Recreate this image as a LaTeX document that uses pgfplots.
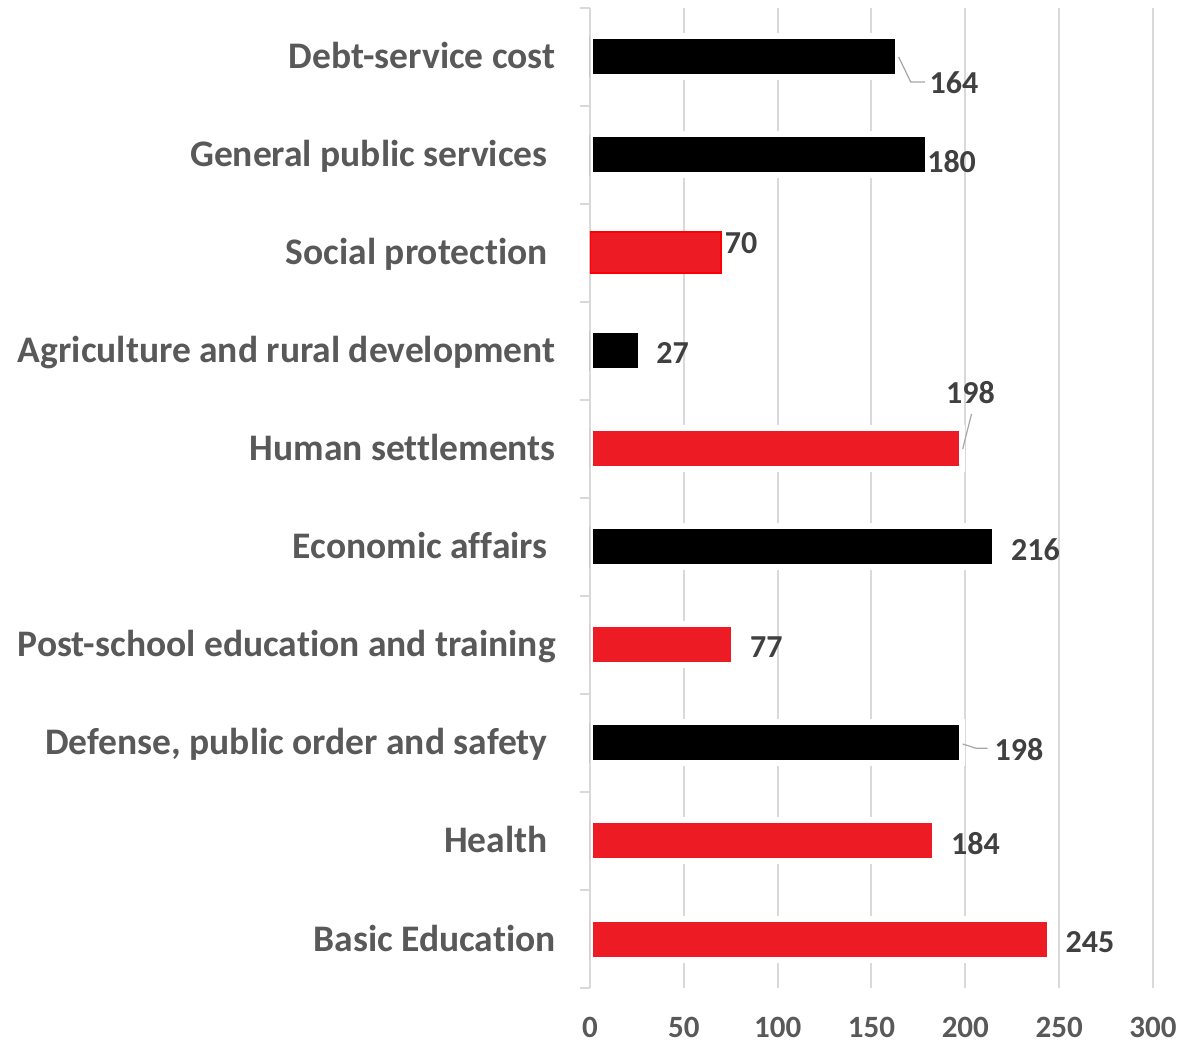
\documentclass[border=0pt]{standalone}
\usepackage{fontspec}
\setmainfont{Carlito}[Ligatures=NoCommon]
\usepackage{pgfplots}
\pgfplotsset{compat=1.18}

\definecolor{gridgray}{HTML}{D9D9D9}
\definecolor{labelgray}{HTML}{595959}
\definecolor{valgray}{HTML}{404040}
\definecolor{leadgray}{HTML}{A6A6A6}
\definecolor{barred}{HTML}{ED1C24}

\begin{document}
\begin{tikzpicture}
\path[use as bounding box] (-295pt,-28pt) rectangle (296pt,494pt);
\begin{axis}[
  at={(0,0)}, anchor=south west,
  scale only axis, width=281.5pt, height=490pt,
  xmin=0, xmax=300, ymin=-0.5, ymax=9.5,
  xbar, bar shift=0pt, bar width=20.5pt,
  axis line style={draw=none},
  xmajorgrids, grid style={gridgray, line width=1pt},
  xtick={0,50,...,300},
  ytick={0,...,9},
  yticklabels={Basic Education, Health\kern4pt, {Defense, public order and safety\kern4pt},
    Post-school education and training, Economic affairs\kern4pt, Human settlements,
    Agriculture and rural development, Social protection\kern4pt,
    General public services\kern4pt, Debt-service cost},
  minor ytick={-0.5,0.5,...,9.5},
  tick align=outside, tick pos=left,
  major tick length=0pt, minor tick length=5pt,
  major tick style={draw=none},
  minor tick style={gridgray, line width=1pt},
  xticklabel style={font=\fontsize{15.5}{18}\selectfont\bfseries, text=labelgray, yshift=-11pt},
  yticklabel style={font=\fontsize{18.75}{22}\selectfont\bfseries, text=labelgray,
    inner sep=0pt, anchor=base east, xshift=-17pt, yshift=-6pt},
  /pgf/number format/assume math mode=true,
]
% black bars
\addplot[fill=black, draw=white, line width=3pt] coordinates {
  (164,9) (180,8) (27,6) (216,4) (198,2)
};
% red bars
\addplot[fill=barred, draw=white, line width=3pt] coordinates {
  (245,0) (184,1) (77,3) (198,5)
};

\draw[gridgray, line width=1pt] (0,-0.5) -- (0,9.5);

% social protection, outlined in bright red and a little taller
\addplot[fill=barred, draw=red, line width=1pt, bar width=20.5pt] coordinates {(70,7)};

% leader lines
\draw[leadgray, line width=0.6pt] (164.5,9.0) -- (170.9,8.745) -- (178.4,8.745);
\draw[leadgray, line width=0.6pt] (198.6,5.0) -- (203.3,5.357);
\draw[leadgray, line width=0.6pt] (198.6,1.99) -- (205.7,1.946) -- (211.9,1.946);

% value labels
\tikzset{val/.style={font=\fontsize{16}{19}\selectfont\bfseries, text=valgray, inner sep=0pt}}
\node[val] at (194.0,8.735) {164};
\node[val] at (192.7,7.93) {180};
\node[val] at (80.5,7.10) {70};
\node[val] at (44.0,5.98) {27};
\node[val] at (202.7,5.58) {198};
\node[val] at (237.4,3.97) {216};
\node[val] at (94.0,2.98) {77};
\node[val] at (228.6,1.93) {198};
\node[val] at (205.4,0.97) {184};
\node[val] at (266.4,-0.03) {245};
\end{axis}
\end{tikzpicture}
\end{document}
